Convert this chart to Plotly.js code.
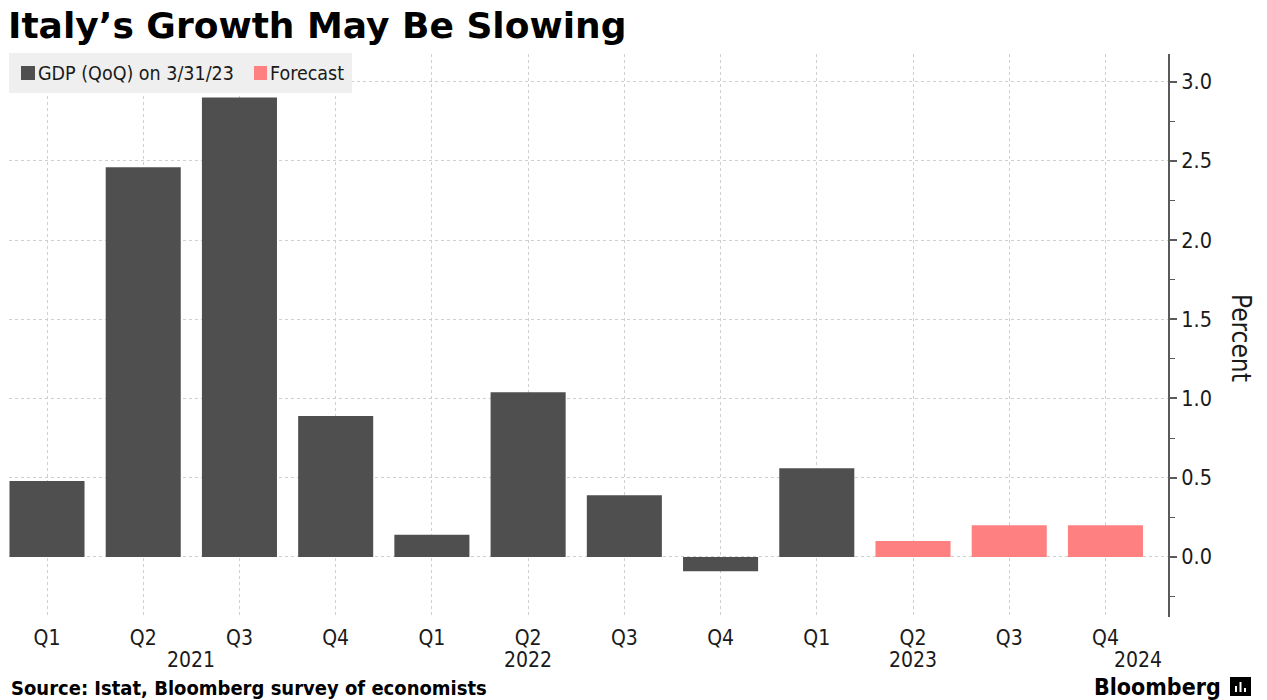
<!DOCTYPE html>
<html>
<head>
<meta charset="utf-8">
<script src="https://cdn.plot.ly/plotly-3.0.1.min.js"></script>
<style>
  html, body { margin: 0; padding: 0; background: #ffffff; }
  #chart { width: 1267px; height: 700px; }
</style>
</head>
<body>
<div id="chart"></div>
<script>
// ---- Data ----
const categories = ['Q1 2021','Q2 2021','Q3 2021','Q4 2021','Q1 2022','Q2 2022','Q3 2022','Q4 2022','Q1 2023','Q2 2023','Q3 2023','Q4 2023'];
const quarterLabels = ['Q1','Q2','Q3','Q4','Q1','Q2','Q3','Q4','Q1','Q2','Q3','Q4'];
const yearLabels = ['2021','2022','2023','2024'];
const gdpCategories = categories.slice(0, 9);
const gdpValues = [0.48, 2.46, 2.90, 0.89, 0.14, 1.04, 0.39, -0.09, 0.56];
const forecastCategories = categories.slice(9);
const forecastValues = [0.10, 0.20, 0.20];
const yTickVals = [0, 0.5, 1.0, 1.5, 2.0, 2.5, 3.0];
const yTickText = ['0.0','0.5','1.0','1.5','2.0','2.5','3.0'];
const gdpName = 'GDP (QoQ) on 3/31/23';
const forecastName = 'Forecast';

// ---- Layout helpers (pixel -> paper) ----
const W = 1267, H = 700;
const L = 9, R = 1168, T = 54, B = 617;
const px = X => (X - L) / (R - L);
const py = Y => (B - Y) / (B - T);

const FONT = '"DejaVu Sans Condensed", "DejaVu Sans", sans-serif';
const TXT = '#1a1a1a';
const GDP_COLOR = '#4f4f4f';
const FC_COLOR = '#ff8080';

const traces = [
  { type: 'bar', x: gdpCategories, y: gdpValues, name: gdpName,
    marker: { color: GDP_COLOR, line: { width: 0 } }, showlegend: false, hoverinfo: 'x+y' },
  { type: 'bar', x: forecastCategories, y: forecastValues, name: forecastName,
    marker: { color: FC_COLOR, line: { width: 0 } }, showlegend: false, hoverinfo: 'x+y' }
];

const yearPos = [1.5, 5, 9, 11.34];
const annotations = [];
yearLabels.forEach((t, i) => {
  annotations.push({ text: t, x: yearPos[i], xref: 'x', y: py(660), yref: 'paper',
    xanchor: 'center', yanchor: 'middle', showarrow: false,
    font: { family: FONT, size: 21, color: TXT } });
});
// Legend texts
annotations.push({ text: gdpName, x: px(36), xref: 'paper', y: py(73), yref: 'paper',
  xanchor: 'left', yanchor: 'middle', showarrow: false,
  font: { family: FONT, size: 19.5, color: TXT } });
annotations.push({ text: forecastName, x: px(268), xref: 'paper', y: py(73), yref: 'paper',
  xanchor: 'left', yanchor: 'middle', showarrow: false,
  font: { family: FONT, size: 19.5, color: TXT } });
// Axis title
annotations.push({ text: 'Percent', x: px(1241), xref: 'paper', y: py(338), yref: 'paper',
  xanchor: 'center', yanchor: 'middle', showarrow: false, textangle: 90,
  font: { family: FONT, size: 26, color: TXT } });
// Source
annotations.push({ text: '<b>Source: Istat, Bloomberg survey of economists</b>', x: px(9), xref: 'paper', y: py(688), yref: 'paper',
  xanchor: 'left', yanchor: 'middle', showarrow: false,
  font: { family: FONT, size: 20, color: '#000' } });
// Bloomberg wordmark
annotations.push({ text: '<b>Bloomberg</b>', x: px(1223), xref: 'paper', y: py(687), yref: 'paper',
  xanchor: 'right', yanchor: 'middle', showarrow: false,
  font: { family: FONT, size: 23, color: '#000' } });

const shapes = [
  // legend background
  { type: 'rect', xref: 'paper', yref: 'paper', x0: px(9), x1: px(352), y0: py(93), y1: py(53),
    fillcolor: '#efefef', line: { width: 0 }, layer: 'above' },
  { type: 'rect', xref: 'paper', yref: 'paper', x0: px(21), x1: px(35), y0: py(80), y1: py(66),
    fillcolor: GDP_COLOR, line: { width: 0 }, layer: 'above' },
  { type: 'rect', xref: 'paper', yref: 'paper', x0: px(254), x1: px(267), y0: py(80), y1: py(66),
    fillcolor: FC_COLOR, line: { width: 0 }, layer: 'above' },
  // Bloomberg logo icon
  { type: 'rect', xref: 'paper', yref: 'paper', x0: px(1230), x1: px(1251), y0: py(696), y1: py(677),
    fillcolor: '#000', line: { width: 0 } },
  { type: 'rect', xref: 'paper', yref: 'paper', x0: px(1235), x1: px(1237), y0: py(692), y1: py(686),
    fillcolor: '#fff', line: { width: 0 } },
  { type: 'rect', xref: 'paper', yref: 'paper', x0: px(1239.5), x1: px(1241.5), y0: py(692), y1: py(682),
    fillcolor: '#fff', line: { width: 0 } },
  { type: 'rect', xref: 'paper', yref: 'paper', x0: px(1244), x1: px(1246), y0: py(692), y1: py(688),
    fillcolor: '#fff', line: { width: 0 } }
];

const layout = {
  width: W, height: H,
  margin: { l: L, r: W - R, t: T, b: H - B, pad: 0 },
  paper_bgcolor: '#ffffff', plot_bgcolor: '#ffffff',
  barmode: 'overlay', bargap: 0.22,
  showlegend: false,
  title: { text: "<b>Italy’s Growth May Be Slowing</b>", xref: 'container', yref: 'container',
    x: 8 / W, xanchor: 'left', y: 1 - 25 / H, yanchor: 'middle',
    font: { family: '"DejaVu Sans", sans-serif', size: 36, color: '#000' } },
  xaxis: {
    type: 'category', categoryorder: 'array', categoryarray: categories,
    range: [-0.395, 11.65], fixedrange: true,
    tickvals: categories, ticktext: quarterLabels,
    showgrid: true, gridcolor: '#cfcfcf', griddash: 'dot', gridwidth: 1,
    showline: false, zeroline: false, ticks: '',
    tickfont: { family: FONT, size: 21, color: TXT },
    ticklabelstandoff: 6
  },
  yaxis: {
    side: 'right', range: [-0.379, 3.174], fixedrange: true,
    tickvals: yTickVals, ticktext: yTickText,
    showgrid: true, gridcolor: '#cfcfcf', griddash: 'dot', gridwidth: 1,
    zeroline: false,
    showline: true, linecolor: '#5a5a5a', linewidth: 2,
    ticks: 'outside', ticklen: 7, tickwidth: 2, tickcolor: '#5a5a5a',
    minor: { tickvals: [-0.25, 0.25, 0.75, 1.25, 1.75, 2.25, 2.75], ticks: 'outside', ticklen: 5, tickwidth: 1, tickcolor: '#5a5a5a', showgrid: false },
    tickfont: { family: FONT, size: 21.5, color: TXT }
  },
  annotations: annotations,
  shapes: shapes
};

Plotly.newPlot('chart', traces, layout, { displayModeBar: false, staticPlot: true });
</script>
</body>
</html>
